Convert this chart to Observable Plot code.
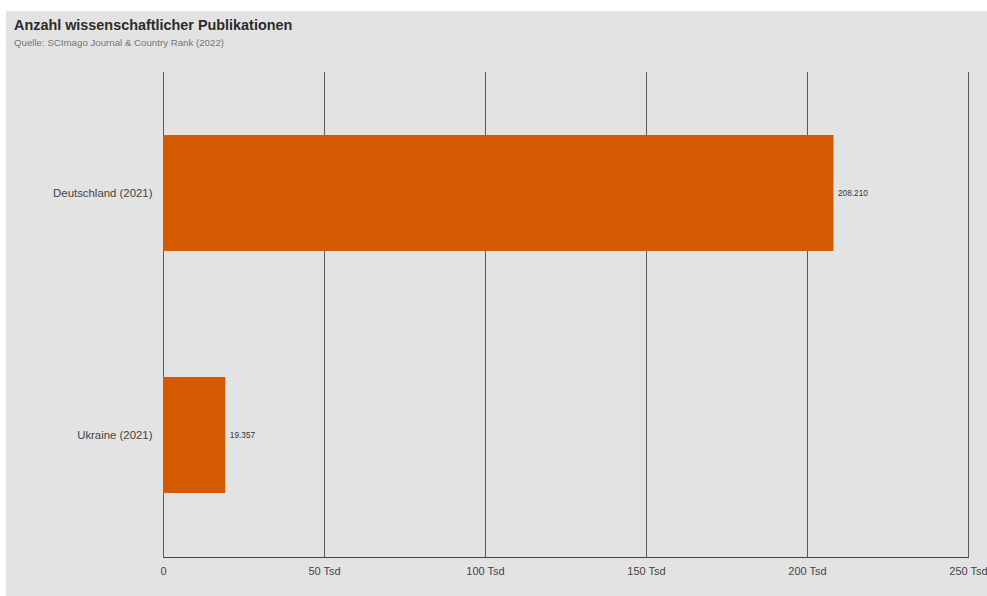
<!DOCTYPE html>
<html><head><meta charset="utf-8">
<script src="https://cdn.jsdelivr.net/npm/d3@7"></script>
<script src="https://cdn.jsdelivr.net/npm/@observablehq/plot@0.6"></script>
<style>
body{margin:0;background:#fff;font-family:"Liberation Sans",Arial,sans-serif;}
#panel{position:absolute;left:6px;top:11px;width:981px;height:585px;background:#e3e3e3;}
#title{position:absolute;left:8px;top:6px;font-size:14.4px;font-weight:bold;color:#2b2b2b;}
#sub{position:absolute;left:8px;top:26px;font-size:9.7px;color:#757575;}
#chart{position:absolute;left:0;top:49px;}
</style></head><body>
<div id="panel">
<div id="title">Anzahl wissenschaftlicher Publikationen</div>
<div id="sub">Quelle: SCImago Journal &amp; Country Rank (2022)</div>
<div id="chart"></div>
</div>
<script>
const categories = ["Deutschland (2021)", "Ukraine (2021)"];
const values = [208210, 19357];
const ticks = [0, 50000, 100000, 150000, 200000, 250000];
const tickLabels = ["0", "50 Tsd", "100 Tsd", "150 Tsd", "200 Tsd", "250 Tsd"];

const data = categories.map((c, i) => ({category: c, value: values[i]}));
const de = d3.formatLocale({decimal: ",", thousands: ".", grouping: [3], currency: ["", "€"]});
const fmt = de.format(",d");

const chart = Plot.plot({
  width: 981,
  height: 536,
  marginLeft: 157,
  marginRight: 19,
  marginTop: 12,
  marginBottom: 39,
  style: {background: "transparent", fontFamily: "'Liberation Sans', Arial, sans-serif", fontSize: "11px", color: "#444"},
  x: {domain: [0, 250000], ticks: ticks, tickFormat: (d) => tickLabels[ticks.indexOf(d)], label: null},
  y: {domain: categories, label: null, paddingInner: 0.52, paddingOuter: 0.26},
  marks: [
    Plot.ruleX(ticks, {stroke: "#5a5a5a", strokeWidth: 1}),
    Plot.barX(data, {x: "value", y: "category", fill: "#d35a00"}),
    Plot.frame({anchor: "bottom", stroke: "#444"}),
    Plot.text(data, {x: "value", y: "category", text: (d) => fmt(d.value), textAnchor: "start", dx: 4, fontSize: 8.3, fill: "#333"}),
    Plot.axisX({ticks: ticks, tickFormat: (d) => tickLabels[ticks.indexOf(d)], tickSize: 0, tickPadding: 10, label: null, fontSize: 11, fill: "#444"}),
    Plot.axisY({tickSize: 0, tickPadding: 11, label: null, fontSize: 11.4, fill: "#444"})
  ]
});
document.getElementById("chart").appendChild(chart);
</script>
</body></html>
